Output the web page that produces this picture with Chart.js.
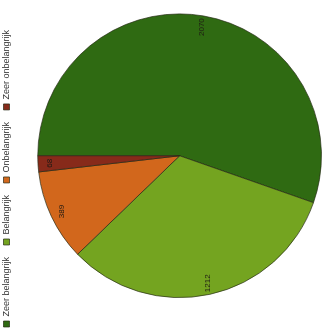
<!DOCTYPE html>
<html>
<head>
<meta charset="utf-8">
<script src="https://cdn.jsdelivr.net/npm/chart.js@4/dist/chart.umd.min.js"></script>
<style>
  html, body { margin: 0; padding: 0; background: #fff; overflow: hidden; }
  body { width: 325px; height: 329px; position: relative; }
  /* the chart is laid out upright, then turned a quarter turn */
  #frame {
    position: absolute; left: -2px; top: 2px;
    width: 329px; height: 325px;
    transform-origin: 50% 50%;
    transform: rotate(-90deg);
  }
  canvas { display: block; }
</style>
</head>
<body>
<div id="frame"><canvas id="c" width="329" height="325"></canvas></div>
<script>
// answers and counts
const categories = ['Zeer belangrijk', 'Belangrijk', 'Onbelangrijk', 'Zeer onbelangrijk'];
const counts = [2070, 1212, 389, 68];
const sliceColors = ['#2f6a12', '#74a420', '#d2671c', '#872a1a'];

// shift the plot area so the pie sits right of and below the legend row
const pieInset = {
  id: 'pieInset',
  afterLayout(chart, args, opts) {
    const a = chart.chartArea;
    a.left += opts.left;
    a.top += opts.top;
    a.width = a.right - a.left;
    a.height = a.bottom - a.top;
  }
};

// value written inside each slice, near the rim
const sliceValues = {
  id: 'sliceValues',
  afterDatasetsDraw(chart) {
    const ctx = chart.ctx;
    const meta = chart.getDatasetMeta(0);
    const data = chart.data.datasets[0].data;
    ctx.save();
    ctx.font = '8px "Liberation Sans", Arial, sans-serif';
    ctx.fillStyle = '#1e1a14';
    ctx.textAlign = 'center';
    ctx.textBaseline = 'middle';
    meta.data.forEach((arc, i) => {
      const p = arc.getProps(['x', 'y', 'startAngle', 'endAngle', 'outerRadius'], true);
      const mid = (p.startAngle + p.endAngle) / 2;
      const r = p.outerRadius * 0.92;
      ctx.fillText(String(data[i]), p.x + Math.cos(mid) * r, p.y + Math.sin(mid) * r);
    });
    ctx.restore();
  }
};

new Chart(document.getElementById('c'), {
  type: 'pie',
  data: {
    labels: categories,
    datasets: [{
      data: counts,
      backgroundColor: sliceColors,
      borderColor: 'rgba(35,40,20,0.85)',
      borderWidth: 0.8,
      hoverOffset: 0
    }]
  },
  options: {
    responsive: false,
    animation: false,
    layout: { padding: { left: -10, top: -10, right: 13.5, bottom: 3 } },
    plugins: {
      pieInset: { left: 31, top: 16.2 },
      tooltip: { enabled: false },
      legend: {
        position: 'top',
        align: 'start',
        labels: {
          boxWidth: 6,
          boxHeight: 6,
          padding: 12,
          color: '#333',
          font: { family: '"Liberation Sans", Arial, sans-serif', size: 9 }
        }
      }
    }
  },
  plugins: [pieInset, sliceValues]
});
</script>
</body>
</html>
